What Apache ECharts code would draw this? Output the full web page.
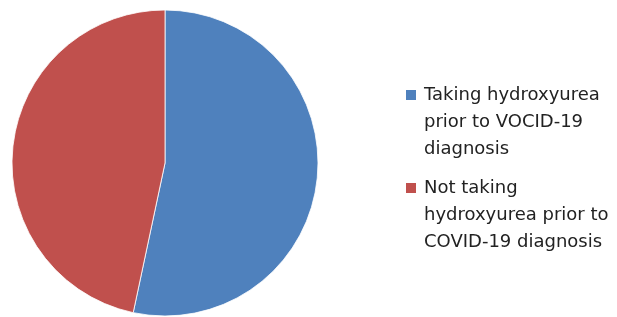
<!DOCTYPE html>
<html>
<head>
<meta charset="utf-8">
<script src="https://cdn.jsdelivr.net/npm/echarts@6/dist/echarts.min.js"></script>
<style>
  html, body { margin: 0; padding: 0; background: #fff; }
  #chart { width: 617px; height: 317px; }
</style>
</head>
<body>
<div id="chart"></div>
<script>
  // slice names and counts
  var names = ['Taking hydroxyurea prior to VOCID-19 diagnosis', 'Not taking hydroxyurea prior to COVID-19 diagnosis'];
  var legendText = ['Taking hydroxyurea\nprior to VOCID-19\ndiagnosis', 'Not taking\nhydroxyurea prior to\nCOVID-19 diagnosis'];
  var values = [16, 14];
  var colors = ['#4f81bd', '#c0504d'];

  var chart = echarts.init(document.getElementById('chart'));

  var pieData = [];
  for (var i = 0; i < names.length; i++) {
    pieData.push({name: names[i], value: values[i], itemStyle: {color: colors[i]}});
  }

  // square next to the first text line, tiny dots keep the icon box as tall as the 3 lines
  var iconPath = 'path://M0,7h12v12h-12Z M0,0h0.01v0.01h-0.01Z M0,81h0.01v-0.01h-0.01Z';

  var option = {
    animation: false,
    legend: {
      orient: 'vertical',
      left: 404,
      top: 81,
      padding: 0,
      itemWidth: 12,
      itemHeight: 81,
      itemGap: 10,
      icon: iconPath,
      selectedMode: false,
      formatter: function (name) {
        return legendText[names.indexOf(name)];
      },
      textStyle: {
        fontFamily: 'DejaVu Sans',
        fontSize: 18,
        lineHeight: 27,
        color: '#222',
        padding: [0, 0, 0, 2]
      }
    },
    series: [{
      type: 'pie',
      center: [165, 163],
      radius: 153,
      startAngle: 90,
      clockwise: true,
      label: {show: false},
      labelLine: {show: false},
      emphasis: {disabled: true},
      itemStyle: {borderColor: '#fff', borderWidth: 0.8},
      data: pieData
    }]
  };
  chart.setOption(option);
</script>
</body>
</html>
